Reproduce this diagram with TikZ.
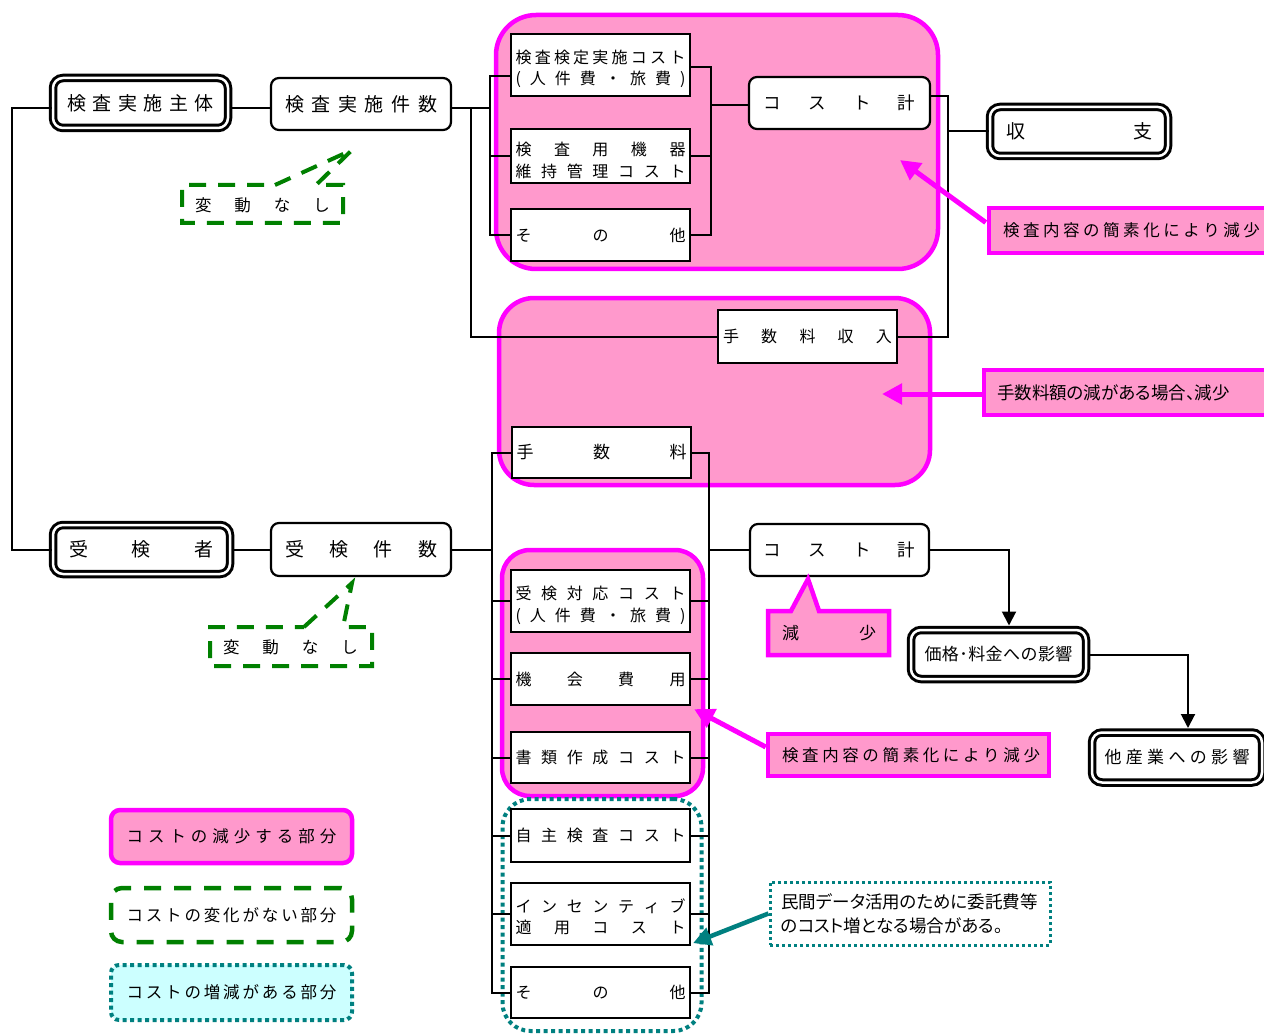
\documentclass[tikz,border=0pt]{standalone}
\usepackage{fontspec}
\setmainfont{Noto Sans CJK JP}
\newfontfamily\jpprop[RawFeature=+palt]{Noto Sans CJK JP}
\usetikzlibrary{arrows.meta,calc}
\definecolor{pinkfill}{HTML}{FF99CC}
\definecolor{magline}{HTML}{FF00FF}
\definecolor{grn}{HTML}{008000}
\definecolor{tealline}{HTML}{008080}
\definecolor{cyanfill}{HTML}{CCFFFF}
% letter-spaced text: the characters of #2 spread evenly over #1 pt
\makeatletter
\newcommand\spreadtxt[2]{\makebox[#1pt][s]{\let\sprsep\relax\@tfor\sprch:=#2\do{\sprsep\sprch\let\sprsep\hfill}}}
\makeatother
\tikzset{
  conn/.style={draw=black, line width=2pt},
  blkarrow/.style={conn, -{Triangle[length=14pt,width=14pt]}},
  magarrow/.style={draw=magline, line width=5pt, -{Triangle[length=20pt,width=20pt]}},
  tealarrow/.style={draw=tealline, line width=4.5pt, -{Triangle[length=18pt,width=18pt]}},
  plainbox/.style={rectangle, draw=black, line width=2.2pt, fill=white, inner sep=0pt},
  roundbox/.style={plainbox, rounded corners=8pt},
  dblbox/.style={rectangle, draw=black, fill=white, line width=3pt, double=white, double distance=2.5pt, rounded corners=10pt, inner sep=0pt},
  region/.style={rectangle, draw=magline, line width=4.5pt, fill=pinkfill, inner sep=0pt},
  tealregion/.style={rectangle, draw=tealline, line width=4pt, dash pattern=on 4pt off 3.5pt, inner sep=0pt},
  magnote/.style={rectangle, draw=magline, fill=pinkfill, line width=4.5pt, inner sep=0pt},
  greenbox/.style={rectangle, draw=grn, line width=4.5pt, dash pattern=on 17pt off 13pt, inner sep=0pt},
  greenspike/.style={draw=grn, line width=4pt, dash pattern=on 17pt off 12pt},
  tealnote/.style={rectangle, draw=tealline, line width=3pt, dash pattern=on 3pt off 3pt, fill=white, inner sep=0pt},
  fbig/.style={font=\fontsize{19}{22}\selectfont},
  fcost/.style={font=\fontsize{17.5}{21}\selectfont},
  fmid/.style={font=\fontsize{17}{21}\selectfont},
  fsmall/.style={font=\fontsize{16}{21.5}\selectfont},
  fnote/.style={font=\fontsize{16.5}{21}\selectfont},
}
\begin{document}
\begin{tikzpicture}[x=1pt,y=-1pt]
\useasboundingbox (0,0) rectangle (1264,1035);
\fill[white] (0,0) rectangle (1264,1035);

% ---- shaded areas ----
\node[region, rounded corners=40pt, minimum width=442pt, minimum height=254pt] (regA) at (717,142) {};
\node[region, rounded corners=35pt, minimum width=431pt, minimum height=187pt] (regB) at (714.5,391.5) {};
\node[region, rounded corners=28pt, minimum width=201pt, minimum height=246pt] (regC) at (602.5,673) {};
\node[tealregion, rounded corners=28pt, minimum width=199pt, minimum height=232pt] (regD) at (602,915) {};

% ---- boxes ----
\node[dblbox, minimum width=175pt, minimum height=50pt, fbig] (shutai) at (140.5,103) {\spreadtxt{147}{検査実施主体}};
\node[roundbox, minimum width=180pt, minimum height=52pt, fbig] (kensu) at (361,104) {\spreadtxt{152}{検査実施件数}};
\node[dblbox, minimum width=177pt, minimum height=49pt, fbig] (jukensha) at (141.5,549.5) {\spreadtxt{145}{受検者}};
\node[roundbox, minimum width=180pt, minimum height=53pt, fbig] (jukenkensu) at (361,549.5) {\spreadtxt{152}{受検件数}};

\node[plainbox, minimum width=179pt, minimum height=62pt] (cA1) at (600.5,65) {};
\node[plainbox, minimum width=179pt, minimum height=54pt] (cA2) at (600.5,156) {};
\node[plainbox, minimum width=179pt, minimum height=52pt, fsmall] (cA3) at (600.5,235) {\spreadtxt{170}{その他}};
\node[roundbox, minimum width=181pt, minimum height=52pt, fcost] (costA) at (839.5,103) {\spreadtxt{152}{コスト計}};
\node[dblbox, minimum width=178pt, minimum height=49pt, fbig] (shushi) at (1079,131.5) {\spreadtxt{146}{収支}};
\node[plainbox, minimum width=179pt, minimum height=53pt, fsmall] (tesuryoIn) at (807.5,336.5) {\spreadtxt{169}{手数料収入}};
\node[plainbox, minimum width=179pt, minimum height=51pt, fmid] (tesuryo) at (601.5,452.5) {\spreadtxt{170}{手数料}};

\node[plainbox, minimum width=179pt, minimum height=62pt] (cB1) at (600.5,601) {};
\node[plainbox, minimum width=179pt, minimum height=52pt, fsmall] (cB2) at (600.5,679) {\spreadtxt{170}{機会費用}};
\node[plainbox, minimum width=179pt, minimum height=51pt, fsmall] (cB3) at (600.5,757.5) {\spreadtxt{170}{書類作成コスト}};
\node[plainbox, minimum width=179pt, minimum height=53pt, fsmall] (cB4) at (600.5,835.5) {\spreadtxt{170}{自主検査コスト}};
\node[plainbox, minimum width=179pt, minimum height=62pt] (cB5) at (600.5,914) {};
\node[plainbox, minimum width=179pt, minimum height=51pt, fsmall] (cB6) at (600.5,992.5) {\spreadtxt{170}{その他}};
\node[roundbox, minimum width=179pt, minimum height=52pt, fcost] (costB) at (839.5,550) {\spreadtxt{152}{コスト計}};
\node[dblbox, minimum width=175pt, minimum height=49pt, fmid] (kakaku) at (998.5,654.5) {\spreadtxt{148}{価格･料金への影響}};
\node[dblbox, minimum width=170pt, minimum height=50pt, fmid] (tasangyo) at (1177,757.5) {\spreadtxt{145}{他産業への影響}};

% two-line labels
\node[fsmall, align=center, inner sep=0pt] (cA1t) at (600.5,69) {\spreadtxt{170}{検査検定実施コスト}\\\spreadtxt{170}{(人件費・旅費)}};
\node[fsmall, align=center, inner sep=0pt] (cA2t) at (600.5,160.5) {\spreadtxt{170}{検査用機器}\\\spreadtxt{170}{維持管理コスト}};
\node[fsmall, align=center, inner sep=0pt] (cB1t) at (600.5,605.5) {\spreadtxt{170}{受検対応コスト}\\\spreadtxt{170}{(人件費・旅費)}};
\node[fsmall, align=center, inner sep=0pt] (cB5t) at (600.5,917) {\spreadtxt{170}{インセンティブ}\\\spreadtxt{170}{適用コスト}};

% ---- connector layout points ----
\coordinate (rootTop) at (12,108);
\coordinate (rootBot) at (12,549.5);
\coordinate (brAL) at (490,0);
\coordinate (brAR) at (711,0);
\coordinate (feeBar) at (471,108);
\coordinate (sumBar) at (948,96);
\coordinate (brBL) at (492,0);
\coordinate (brBR) at (709,0);
\coordinate (tipA) at (900,160);
\coordinate (tipB) at (882,394);

% ---- connectors ----
\draw[conn] (shutai.west |- rootTop) -- (rootTop) -- (rootBot) -- (jukensha.west);
\draw[conn] (shutai.east |- rootTop) -- (kensu.west |- rootTop);
\draw[conn] (kensu.east |- rootTop) -- (brAL |- rootTop);
\draw[conn] (feeBar) |- (tesuryoIn.west);
\draw[conn] ($(cA1.west)+(0,11)$) -| (brAL |- cA3.west) -- (cA3.west);
\draw[conn] (cA2.west) -- (brAL |- cA2.west);
\draw[conn] ($(cA1.east)+(0,2)$) -| (brAR |- cA3.east) -- (cA3.east);
\draw[conn] (cA2.east) -- (brAR |- cA2.east);
\draw[conn] ($(costA.west -| brAR)+(0,2)$) -- ($(costA.west)+(0,2)$);
\draw[conn] (costA.east |- sumBar) -- (sumBar) |- (tesuryoIn.east);
\draw[conn] (shushi.west) -- (shushi.west -| sumBar);

\draw[conn] (jukensha.east) -- (jukenkensu.west);
\draw[conn] (jukenkensu.east) -- (jukenkensu.east -| brBL);
\draw[conn] (tesuryo.west) -- (tesuryo.west -| brBL) -- (cB6.west -| brBL) -- (cB6.west);
\draw[conn] (tesuryo.east) -- (tesuryo.east -| brBR) -- (cB6.east -| brBR) -- (cB6.east);
\foreach \i in {1,...,5} {
  \draw[conn] (cB\i.west) -- (cB\i.west -| brBL);
  \draw[conn] (cB\i.east) -- (cB\i.east -| brBR);
}
\draw[conn] (costB.west -| brBR) -- (costB.west);
\draw[blkarrow] (costB.east) -| ($(kakaku.north)+(10.5,-3)$);
\draw[blkarrow] (kakaku.east) -| ($(tasangyo.north)+(11,-3)$);

% ---- notes ----
\node[magnote, minimum width=286pt, minimum height=45pt, fnote] (noteA) at (1132,230.5) {\makebox[286pt][l]{\hspace{14pt}\spreadtxt{257}{検査内容の簡素化により減少}}};
\node[magnote, minimum width=291pt, minimum height=45pt, font=\jpprop\fontsize{17.5}{21}\selectfont] (noteB) at (1129.5,392.5) {\makebox[291pt][l]{\hspace{13pt}手数料額の減がある場合、減少}};
\node[magnote, minimum width=281pt, minimum height=42pt, fnote] (noteC) at (908.5,755) {\makebox[281pt][l]{\hspace{14pt}\spreadtxt{258}{検査内容の簡素化により減少}}};
\node[tealnote, minimum width=280pt, minimum height=63pt] (noteD) at (910,913.5) {};
\node[anchor=west, align=left, inner sep=0pt, font=\jpprop\fontsize{17.5}{24}\selectfont] (noteDt) at (781,913.5) {民間データ活用のために委託費等\\のコスト増となる場合がある。};

\draw[magarrow] ($(noteA.west)+(-1,-8)$) -- (tipA);
\draw[magarrow] ($(noteB.west)+(0,1.5)$) -- (tipB);
\draw[magarrow] ($(noteC.west)+(0,-8)$) -- ($(cB2.south east)+(3,3)$);
\draw[tealarrow] (noteD.west) -- ($(cB5.south east)+(2,-3)$);

% ---- spiked callouts ----
\draw[magline, fill=pinkfill, line width=4.5pt] (768,611) -- (791,611) -- (808,579) -- (819,611) -- (889,611) -- (889,655) -- (768,655) -- cycle;
\node[fmid, inner sep=0pt] (genA) at (829,633) {\spreadtxt{94}{減少}};

\draw[greenspike] (275,185) -- (352,150) -- (316,185) -- (343,185) -- (343,223) -- (182,223) -- (182,185) -- cycle;
\node[fnote, inner sep=0pt] (hendoA) at (262.5,205) {\spreadtxt{135}{変動なし}};
\draw[greenspike] (304,627) -- (352,583) -- (343,627) -- (372,627) -- (372,666) -- (210,666) -- (210,627) -- cycle;
\node[fnote, inner sep=0pt] (hendoB) at (290.5,647) {\spreadtxt{135}{変動なし}};

% ---- legend ----
\node[magnote, rounded corners=9pt, minimum width=241pt, minimum height=53pt, fnote] (leg1) at (231.5,836.5) {\spreadtxt{210}{コストの減少する部分}};
\node[greenbox, rounded corners=11pt, minimum width=241pt, minimum height=54pt, fnote] (leg2) at (231.5,915) {\spreadtxt{210}{コストの変化がない部分}};
\node[tealregion, fill=cyanfill, rounded corners=8pt, minimum width=241pt, minimum height=55pt, fnote] (leg3) at (231.5,992.5) {\spreadtxt{210}{コストの増減がある部分}};
\end{tikzpicture}
\end{document}
